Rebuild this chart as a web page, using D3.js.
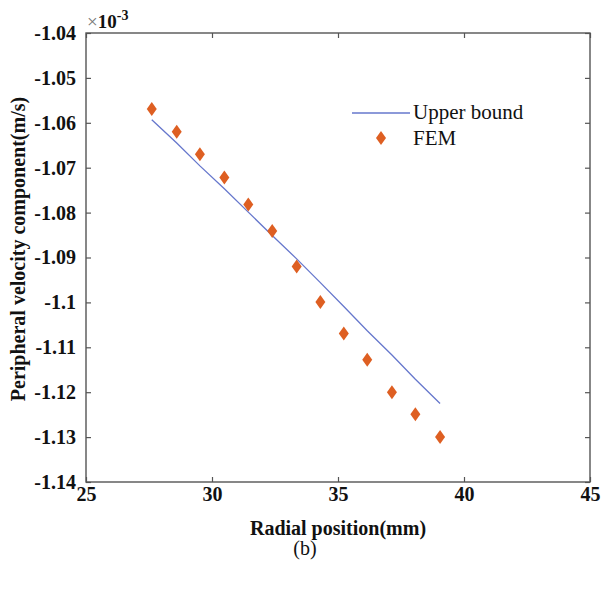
<!DOCTYPE html>
<html lang="en">
<head>
<meta charset="UTF-8">
<title>Peripheral velocity vs radial position</title>
<script src="https://d3js.org/d3.v7.min.js"></script>
<style>
 body {
   margin: 0;
   background: #fff;
 }
 svg text {
   font-family: "Liberation Serif", "Times New Roman", serif;
 }
 .tick-label {
   font-size: 20px;
   font-weight: bold;
   fill: #111;
 }
 .axis-title {
   font-size: 20px;
   font-weight: bold;
   fill: #111;
 }
 .legend text {
   font-size: 21px;
   fill: #111;
 }
</style>
</head>
<body>
<div id="chart"></div>
<script>
// radial position (mm)
const radialPos = [27.61, 28.60, 29.52, 30.49, 31.44, 32.39, 33.36, 34.30, 35.23, 36.16, 37.14, 38.07, 39.05];
// peripheral velocity, x10^-3 m/s
const upperBound = [-1.0593, -1.0645, -1.0696, -1.0747, -1.0799, -1.0851, -1.0903, -1.0956, -1.1009, -1.1063, -1.1117, -1.1171, -1.1225];
const femValues = [-1.0569, -1.0620, -1.0670, -1.0722, -1.0782, -1.0841, -1.0920, -1.0999, -1.1069, -1.1128, -1.1200, -1.1249, -1.1300];

const xTicks = [25, 30, 35, 40, 45];
const yTicks = [-1.04, -1.05, -1.06, -1.07, -1.08, -1.09, -1.1, -1.11, -1.12, -1.13, -1.14];
const yTickLabels = ["-1.04", "-1.05", "-1.06", "-1.07", "-1.08", "-1.09", "-1.1", "-1.11", "-1.12", "-1.13", "-1.14"];

const width = 601;
const height = 590;
const margin = { top: 33, right: 11, bottom: 108, left: 86 };
const w = width - margin.left - margin.right;
const h = height - margin.top - margin.bottom;

const svg = d3.select('#chart').append('svg')
  .attr('width', width)
  .attr('height', height);

const g = svg.append('g')
  .attr('transform', `translate(${margin.left},${margin.top})`);

const x = d3.scaleLinear().domain([25, 45]).range([0, w]);
const y = d3.scaleLinear().domain([-1.14, -1.04]).range([h, 0]);

const axisColor = '#555';
const tickLen = 5;

// inward ticks on all four sides
function styleAxis(sel) {
  sel.attr('font-family', null).attr('font-size', null);
  sel.select('.domain').remove();
  sel.selectAll('.tick line').attr('stroke', axisColor).attr('stroke-width', 1.2);
}

g.append('g')
  .attr('transform', `translate(0,${h})`)
  .call(d3.axisBottom(x).tickValues(xTicks).tickSize(-tickLen).tickPadding(5).tickFormat(d3.format('d')))
  .call(styleAxis)
  .call(s => s.selectAll('.tick text').attr('class', 'tick-label'));

g.append('g')
  .call(d3.axisTop(x).tickValues(xTicks).tickSize(-tickLen).tickFormat(''))
  .call(styleAxis);

g.append('g')
  .call(d3.axisLeft(y).tickValues(yTicks).tickSize(-tickLen).tickPadding(10)
    .tickFormat((d, i) => yTickLabels[i]))
  .call(styleAxis)
  .call(s => s.selectAll('.tick text').attr('class', 'tick-label'));

g.append('g')
  .attr('transform', `translate(${w},0)`)
  .call(d3.axisRight(y).tickValues(yTicks).tickSize(-tickLen).tickFormat(''))
  .call(styleAxis);

// box
g.append('rect')
  .attr('width', w)
  .attr('height', h)
  .attr('fill', 'none')
  .attr('stroke', axisColor)
  .attr('stroke-width', 1.4);

// upper bound line
const line = d3.line()
  .x((d, i) => x(radialPos[i]))
  .y(d => y(d));

g.append('path')
  .datum(upperBound)
  .attr('d', line)
  .attr('fill', 'none')
  .attr('stroke', '#6677cc')
  .attr('stroke-width', 1.3);

// FEM diamonds
const diamond = 'M0,-7L5,0L0,7L-5,0Z';
g.selectAll('.fem')
  .data(femValues)
  .enter()
  .append('path')
  .attr('class', 'fem')
  .attr('d', diamond)
  .attr('fill', '#de5f22')
  .attr('transform', (d, i) => `translate(${x(radialPos[i])},${y(d)})`);

// exponent
const expo = svg.append('text')
  .attr('x', 87)
  .attr('y', 28)
  .attr('font-size', 19);
expo.append('tspan').attr('fill', '#777').text('×');
expo.append('tspan').attr('fill', '#111').attr('font-weight', 'bold').text('10');
expo.append('tspan').attr('fill', '#111').attr('font-weight', 'bold')
  .attr('font-size', 14).attr('dy', -8).text('-3');

// legend
const legend = svg.append('g').attr('class', 'legend');
legend.append('line')
  .attr('x1', 352).attr('x2', 410)
  .attr('y1', 113).attr('y2', 113)
  .attr('stroke', '#6677cc')
  .attr('stroke-width', 1.3);
legend.append('text').attr('x', 413).attr('y', 119).text('Upper bound');
legend.append('path')
  .attr('d', diamond)
  .attr('fill', '#de5f22')
  .attr('transform', 'translate(381,138)');
legend.append('text').attr('x', 413).attr('y', 145).text('FEM');

// axis titles
svg.append('text')
  .attr('class', 'axis-title')
  .attr('x', margin.left + w / 2)
  .attr('y', 535)
  .attr('text-anchor', 'middle')
  .text('Radial position(mm)');

svg.append('text')
  .attr('class', 'axis-title')
  .attr('transform', 'translate(25,249) rotate(-90)')
  .attr('text-anchor', 'middle')
  .text('Peripheral velocity component(m/s)');

// caption
svg.append('text')
  .attr('x', 305)
  .attr('y', 555)
  .attr('text-anchor', 'middle')
  .attr('font-size', 20)
  .attr('fill', '#111')
  .text('(b)');
</script>
</body>
</html>
